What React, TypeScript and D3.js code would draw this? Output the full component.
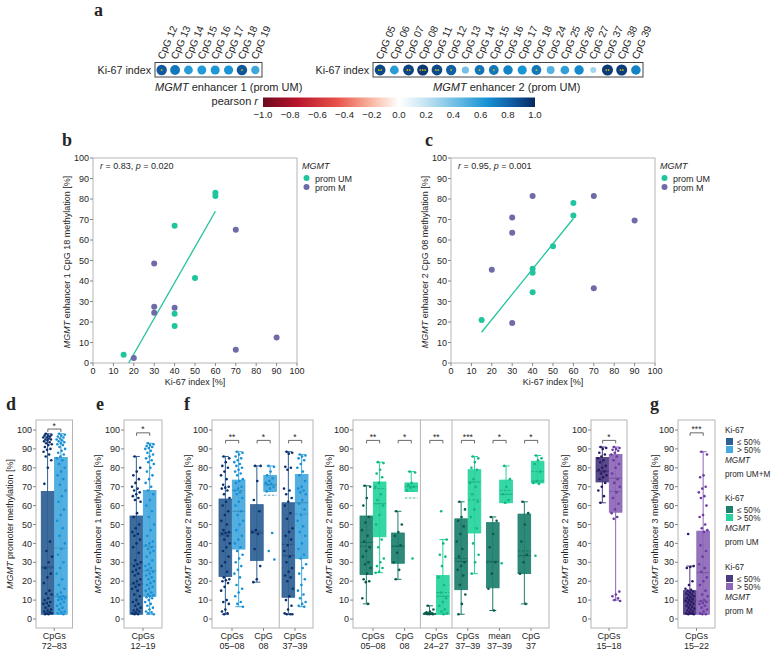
import React from "react";
import * as d3 from "d3";

const SANS = "Arial, 'Liberation Sans', Helvetica, sans-serif";
const SERIF = "'Liberation Serif', 'Times New Roman', serif";
const INK = "#262626";
const FRAME = "#b5b5b5";

// ---- a: pearson r of Ki-67 index vs CpG methylation ----
const enh1CpGs = ["12", "13", "14", "15", "16", "17", "18", "19"];
const enh1R = [0.84, 0.74, 0.6, 0.61, 0.63, 0.64, 0.85, 0.54];
const enh1Sig = [1, 0, 0, 0, 0, 0, 1, 0];
const enh2CpGs = ["05", "06", "07", "08", "11", "12", "13", "14", "15", "16", "17", "18", "24", "25", "26", "27", "37", "38", "39"];
const enh2R = [0.9, 0.6, 0.91, 0.95, 0.89, 0.82, 0.4, 0.75, 0.74, 0.7, 0.64, 0.74, 0.48, 0.58, 0.68, 0.28, 0.94, 0.93, 0.7];
const enh2Sig = [2, 0, 2, 3, 2, 1, 0, 1, 1, 0, 0, 1, 0, 0, 0, 0, 2, 2, 0];

// ---- b / c: scatter (Ki-67 index vs methylation) ----
const bUmX = [15, 40, 40, 40, 50, 60, 60];
const bUmY = [4, 67, 24, 18, 41.5, 83, 81.5];
const bMX = [20, 30, 30, 30, 40, 70, 70, 90];
const bMY = [2.5, 48.5, 27.5, 24.5, 27, 65, 6.5, 12.5];
const bFitX = [17.5, 60];
const bFitY = [0, 74];
const cUmX = [15, 40, 40, 40, 50, 60, 60];
const cUmY = [21, 46, 44, 34.5, 57, 78, 72];
const cMX = [20, 30, 30, 30, 40, 70, 70, 90];
const cMY = [45.5, 71, 63.5, 19.5, 81.5, 81.5, 36.5, 69.5];
const cFitX = [15, 60];
const cFitY = [15, 70.5];

// ---- d..g: box plots, stats = [q1, median, q3, mean, whiskerLow, whiskerHigh] ----
const dGroups = [["CpGs", "72–83"]];
const dLo = [[2.5, 27.5, 67.5, 27, 2.5, 98]];
const dHi = [[2.5, 12, 85.5, 37.5, 2.5, 98]];
const dLoPts = [[98, 97.5, 97, 97, 96.5, 96, 96, 95.5, 95, 95, 94.5, 94, 93.5, 93, 92.5, 92, 91, 90, 89.5, 88.5, 87, 86, 84, 80, 71.5, 41, 36, 33, 30, 27, 24, 22, 19, 15, 13.5, 13, 11, 10, 9, 8.5, 8, 7, 6, 5, 4.5, 4, 3.5, 3, 3, 2.5, 2.5]];
const dHiPts = [[98, 97.5, 97, 96.5, 96, 95.5, 95, 94.5, 94, 93.5, 93, 92.5, 92, 91, 90, 89, 88, 87, 86, 85, 84, 82, 80, 78, 76, 74, 71, 68, 65, 62, 58, 55, 52, 48, 44, 40, 37, 34, 30, 27, 24, 21, 18, 16, 14, 13, 12, 11.5, 11, 10.5, 10, 9, 8, 7, 6, 5, 4, 3.5, 3, 2.5]];
const dStars = ["*"];

const eGroups = [["CpGs", "12–19"]];
const eLo = [[2.5, 18.5, 54.5, 29, 2.5, 86]];
const eHi = [[12, 25.5, 68, 38.5, 2.5, 93]];
const eLoPts = [[86, 80, 78, 76, 74, 72, 70, 69, 68, 67, 66, 65, 64, 63, 62, 56, 54, 50, 48, 46, 45, 44, 42, 40, 38, 35, 31, 30, 29, 28, 27, 26, 25, 24, 23, 21, 20, 19, 18, 17, 16, 15, 13, 12, 10, 9, 8, 7, 6, 5, 4.5, 4, 3.5, 3, 2.5, 2.5]];
const eHiPts = [[93, 92.5, 92, 91.5, 91, 90.5, 90, 89, 88, 87, 86, 85, 84, 83, 82, 80, 78, 76, 74, 72, 70, 68, 66, 63, 60, 57, 54, 50, 47, 44, 41, 40, 39, 38, 37, 36, 35, 33, 31, 29, 28, 27, 26, 25, 24, 23, 22, 21, 20, 19, 18, 17, 16, 15, 14, 13, 12.5, 12, 11.5, 11, 10, 9, 8, 7, 6, 5, 4, 3.5, 3, 2.5]];
const eStars = ["*"];

const fLGroups = [["CpGs", "05–08"], ["CpG", "08"], ["CpGs", "37–39"]];
const fLLo = [[22.5, 45.5, 63.5, 44, 2.5, 86], [31, 45.5, 60.5, 46.5, 19.5, 81], [11.5, 33.5, 61.5, 39.5, 2.5, 88.5]];
const fLHi = [[37, 57, 73.5, 68, 6.5, 88.5], [67.5, 71, 76, 65.5, 67.5, 81], [32, 61.5, 76.5, 55.5, 6.5, 87]];
const fLLoPts = [
  [86, 85, 83, 81, 80, 78, 76, 74, 71, 70, 69.5, 69, 68, 66, 64, 62, 60, 57, 55, 52, 50, 47, 46, 45.5, 45, 44, 42, 40, 38, 36, 33, 30, 28, 25, 22, 21, 20.5, 20, 19, 17, 15, 10, 9, 8, 5, 4, 3, 2.5],
  [81, 81, 73, 63, 57, 47, 46, 45, 37, 28, 21, 19.5],
  [88.5, 88, 87.5, 80.5, 80, 79, 69, 68, 66, 64, 62, 60, 56, 53, 48, 46, 44, 42, 39, 36, 33, 30, 27, 25, 23, 22, 20, 16, 12, 10, 7, 5, 3, 2.5, 2.5, 2.5],
];
const fLHiPts = [
  [88.5, 88, 87, 86, 85, 84, 83, 82, 81, 80, 79, 78, 77, 76, 74, 73, 72, 70, 69, 68, 67, 66, 64, 62, 60, 57, 55, 52, 50, 47, 44, 42, 40, 38, 36, 34, 32, 30, 28, 26, 24, 22, 18, 16, 14, 12, 9, 8, 6.5],
  [81, 80.5, 78, 76, 74.5, 73, 72, 71.5, 71, 70, 69, 67.5, 45.5, 36, 31.5],
  [87, 86.5, 86, 85, 84, 82, 80, 78, 76, 73, 70, 69, 68, 67, 66, 63, 61, 58, 55, 52, 49, 46, 44, 40, 37, 34, 32, 29, 27, 24, 21, 18, 15, 13, 11, 9, 8, 7, 6.5],
];
const fLStars = ["**", "*", "*"];

const fMGroups = [["CpGs", "05–08"], ["CpG", "08"], ["CpGs", "24–27"], ["CpGs", "37–39"], ["mean", "37–39"], ["CpG", "37"]];
const fMLo = [[23.5, 40.5, 54.5, 38.5, 8, 70.5], [29.5, 38.5, 45.5, 38.5, 21, 57], [2.5, 2.6, 3, 3, 2.5, 7], [15.5, 30.5, 53, 32, 2.5, 62], [16.5, 30.5, 51, 30, 4.5, 54], [24, 33.5, 55.5, 36, 8, 62]];
const fMHi = [[43.5, 61, 72.5, 69, 24.5, 83], [67.5, 70, 72, 64, 67.5, 78], [2.5, 12, 23, 14, 2.5, 42], [45.5, 72.5, 79, 63, 24, 86], [61.5, 66, 73.5, 68, 61.5, 81], [72, 73, 83.5, 78, 72, 86.5]];
const fMLoPts = [
  [70.5, 70, 64, 60, 54, 51, 47, 44, 41, 38, 36, 33, 30, 29, 27, 24, 21, 20, 19.5, 11, 8],
  [57, 50, 46, 44, 39, 35, 30, 26, 21],
  [7, 5, 4, 3.5, 3, 3, 3, 2.8, 2.6, 2.5, 2.5],
  [62, 58, 54, 52, 49, 45, 41, 37, 33, 30, 28, 26, 23, 18, 13, 8, 2.5],
  [54, 52, 45, 38, 30, 24, 16, 4.5],
  [62, 56, 50, 41, 34, 30, 24, 8],
];
const fMHiPts = [
  [83, 82.5, 79, 77, 75, 72, 70, 66, 63, 60, 55, 50, 42, 38, 32, 30, 28, 27, 25, 24.5],
  [78, 77.5, 72, 71, 70, 69.5, 68, 32],
  [57, 42, 40, 34, 33, 28, 22, 18, 14, 11, 9, 7, 5, 4, 3, 2.5],
  [86, 85, 83, 80, 79, 74, 72, 70, 66, 62, 58, 54, 48, 40, 34, 30, 24],
  [81, 74, 70, 66, 63, 61.5, 29.5],
  [86.5, 85, 84, 82, 78, 73, 72, 71.5, 33.5],
];
const fMStars = ["**", "*", "**", "***", "*", "*"];

const fRGroups = [["CpGs", "15–18"]];
const fRLo = [[72.5, 78, 85.5, 78.5, 61.5, 91]];
const fRHi = [[56.5, 74.5, 87, 67.5, 10, 91]];
const fRLoPts = [[91, 90.5, 90, 88, 87, 86, 85, 84, 83, 81, 80, 79, 78, 77, 76, 75, 74, 72, 70, 68, 65, 61.5]];
const fRHiPts = [[91, 90.5, 90, 89.5, 89, 88, 87, 86, 84, 82, 80, 77, 74, 72, 70, 67, 64, 61, 58, 56, 54, 53, 14.5, 13, 12, 11, 10, 9.5]];
const fRStars = ["*"];

const gGroups = [["CpGs", "15–22"]];
const gLo = [[2.5, 9.5, 15, 10.5, 2.5, 28]];
const gHi = [[2.5, 24.5, 46.5, 9.5, 2.5, 88.5]];
const gLoPts = [[45, 28, 27.5, 27, 20, 18, 16, 15.5, 15, 14.5, 14, 13.5, 13, 12.5, 12, 11.5, 11, 10.5, 10, 9.5, 9, 8.5, 8, 7.5, 7, 6.5, 6, 5.5, 5, 4.5, 4, 3.5, 3, 3, 2.5, 2.5]];
const gHiPts = [[88.5, 87, 76, 75, 70, 69, 67, 65, 64, 60, 55, 54, 50, 48, 47, 46, 39, 36, 33, 29, 27, 25, 22, 20, 18, 15, 13, 12, 10, 9.5, 9, 8.5, 8, 7, 6, 5, 4, 3, 2.5, 2.5]];
const gStars = ["***"];

const bluePal = { lo: "#2d5f94", hi: "#45a8de", loPt: "#0c2f6c", hiPt: "#178fd4" };
const greenPal = { lo: "#1d7f6d", hi: "#25d49d", loPt: "#0b5a4c", hiPt: "#13b585" };
const purplePal = { lo: "#4b3b7f", hi: "#8c67b7", loPt: "#2b1866", hiPt: "#6a3ba3" };
const UM = "#20c49d";
const PM = "#6f6aa8";

const rColor = d3
  .scaleLinear<string>()
  .domain([-1, -0.75, -0.45, -0.2, 0, 0.2, 0.45, 0.65, 0.82, 1])
  .range(["#6d0a1d", "#b8142c", "#e8534a", "#f9b8a3", "#ffffff", "#c3e3f2", "#62b8e2", "#1592d3", "#115fa6", "#08285f"]);
const rSize = d3.scaleSqrt().domain([0, 1]).range([0, 5.7]);

const Mgmt = () => <tspan fontStyle="italic">MGMT</tspan>;

function CorrRow({ cpgs, rs, sig, x0, x1, title, titleX }: any) {
  const band = d3.scaleBand<string>().domain(cpgs).range([x0, x1]);
  const cx = (c: string) => (band(c) as number) + band.bandwidth() / 2;
  return (
    <g>
      <text x={x0 - 4} y={70} dy="0.35em" textAnchor="end" fontSize={10.7} fill={INK}>Ki-67 index</text>
      <rect x={x0} y={62.5} width={x1 - x0} height={14.5} fill="none" stroke="#444" strokeWidth={1} />
      {cpgs.map((c: string, i: number) => (
        <g key={c}>
          <circle cx={cx(c)} cy={70} r={rSize(Math.abs(rs[i]))} fill={rColor(rs[i])} />
          {d3.range(sig[i]).map((k) => (
            <circle key={k} cx={cx(c) + (k - (sig[i] - 1) / 2) * 2.4} cy={70} r={0.85} fill="#f3d000" />
          ))}
          <text transform={`translate(${cx(c) + 2},60) rotate(-67)`} fontSize={10.2} fill={INK}>{`CpG ${c}`}</text>
        </g>
      ))}
      <text x={titleX} y={91} fontSize={11} fill={INK}><Mgmt />{title}</text>
    </g>
  );
}

function ColorBar() {
  const x = d3.scaleLinear().domain([-1, 1]).range([263, 535]);
  const stops = d3.range(-1, 1.0001, 0.05);
  return (
    <g>
      <defs>
        <linearGradient id="rgrad" x1="0" x2="1" y1="0" y2="0">
          {stops.map((s) => (
            <stop key={s} offset={(s + 1) / 2} stopColor={rColor(s)} />
          ))}
        </linearGradient>
      </defs>
      <text x={258} y={105} textAnchor="end" fontSize={11} fill={INK}>pearson <tspan fontStyle="italic">r</tspan></text>
      <rect x={x(-1)} y={97.5} width={x(1) - x(-1)} height={9.5} fill="url(#rgrad)" />
      {x.ticks(10).map((t) => (
        <text key={t} x={x(t)} y={117.5} textAnchor="middle" fontSize={9.6} fill={INK}>{d3.format(".1f")(t)}</text>
      ))}
    </g>
  );
}

function Scatter({ left, letter, letterX, umX, umY, mX, mY, fitX, fitY, r, p, yText, yLabelX }: any) {
  const x = d3.scaleLinear().domain([0, 100]).range([left, left + 204]);
  const y = d3.scaleLinear().domain([0, 100]).range([363, 158]);
  const ticks = x.ticks(10);
  const line = d3.line<number>().x((d) => x(d)).y((_, i) => y(fitY[i]));
  return (
    <g fontSize={9} fill={INK}>
      <text x={letterX} y={146} fontFamily={SERIF} fontWeight="bold" fontSize={18}>{letter}</text>
      <rect x={x(0)} y={y(100)} width={x(100) - x(0)} height={y(0) - y(100)} fill="none" stroke={FRAME} />
      {ticks.map((t) => (
        <g key={t}>
          <line x1={x(0) - 3} x2={x(0)} y1={y(t)} y2={y(t)} stroke="#888" />
          <text x={x(0) - 4} y={y(t)} dy="0.35em" textAnchor="end">{t}</text>
          <line x1={x(t)} x2={x(t)} y1={y(0)} y2={y(0) + 3} stroke="#888" />
          <text x={x(t)} y={y(0) + 11} textAnchor="middle">{t}</text>
        </g>
      ))}
      <text x={x(50)} y={385} textAnchor="middle">Ki-67 index [%]</text>
      <text transform={`translate(${yLabelX},262) rotate(-90)`} textAnchor="middle"><Mgmt />{yText}</text>
      <text x={x(0) + 7} y={169}>
        <tspan fontStyle="italic">r</tspan>{` = ${r}, `}<tspan fontStyle="italic">p</tspan>{` = ${p}`}
      </text>
      <path d={line(fitX) as string} fill="none" stroke={UM} strokeWidth={1.3} />
      {umX.map((v: number, i: number) => (
        <circle key={"u" + i} cx={x(v)} cy={y(umY[i])} r={3} fill={UM} />
      ))}
      {mX.map((v: number, i: number) => (
        <circle key={"m" + i} cx={x(v)} cy={y(mY[i])} r={3} fill={PM} />
      ))}
      <text x={x(100) + 5} y={169} fontStyle="italic">MGMT</text>
      <circle cx={x(100) + 9.5} cy={178} r={3} fill={UM} />
      <text x={x(100) + 18} y={181.5}>prom UM</text>
      <circle cx={x(100) + 9.5} cy={187} r={3} fill={PM} />
      <text x={x(100) + 18} y={190.5}>prom M</text>
    </g>
  );
}

// fixed horizontal spread of the dots inside a box (display only)
const jit = (i: number) => ((i * 0.6180339887 + 0.31) % 1) - 0.5;

function BoxPanel({ x0, x1, groups, lo, hi, loPts, hiPts, stars, bracket, breaks = [], pal, yText, yLabelX, letter, letterX }: any) {
  const y = d3.scaleLinear().domain([0, 100]).range([619, 430]);
  const n = groups.length;
  const pos = d3.scalePoint<number>().domain(d3.range(n)).range([x0 + 20, x1 - 18]);
  const cx = (i: number) => (n === 1 ? (x0 + x1) / 2 : (pos(i) as number));
  const top = 420;
  const bot = 628;
  const box = (c: number, s: number[], pts: number[], fill: string, pt: string, side: number, key: string) => {
    const bx = side < 0 ? c - 13 : c + 0.3;
    const w = 12.7;
    const mid = bx + w / 2;
    const dark = d3.color(fill)!.darker(0.7).formatHex();
    return (
      <g key={key}>
        <line x1={mid} x2={mid} y1={y(s[4])} y2={y(s[5])} stroke={fill} strokeWidth={1} />
        <line x1={mid - 3.5} x2={mid + 3.5} y1={y(s[4])} y2={y(s[4])} stroke={fill} />
        <line x1={mid - 3.5} x2={mid + 3.5} y1={y(s[5])} y2={y(s[5])} stroke={fill} />
        <rect x={bx} y={y(s[2])} width={w} height={Math.max(1, y(s[0]) - y(s[2]))} fill={fill} fillOpacity={0.92} stroke={fill} strokeWidth={0.8} />
        <line x1={bx} x2={bx + w} y1={y(s[1])} y2={y(s[1])} stroke={dark} strokeWidth={0.8} />
        <line x1={bx} x2={bx + w} y1={y(s[3])} y2={y(s[3])} stroke={dark} strokeWidth={0.8} strokeDasharray="2.5,1.5" />
        {pts.map((v, i) => (
          <circle key={i} cx={mid + jit(i) * 9} cy={y(v)} r={1.3} fill={pt} />
        ))}
      </g>
    );
  };
  return (
    <g fontSize={9} fill={INK}>
      <text x={letterX} y={410} fontFamily={SERIF} fontWeight="bold" fontSize={18}>{letter}</text>
      <rect x={x0} y={top} width={x1 - x0} height={bot - top} fill="none" stroke={FRAME} />
      {breaks.map((b: number) => (
        <line key={b} x1={(cx(b) + cx(b + 1)) / 2} x2={(cx(b) + cx(b + 1)) / 2} y1={top} y2={bot} stroke={FRAME} />
      ))}
      {y.ticks(10).map((t) => (
        <g key={t}>
          <line x1={x0 - 3} x2={x0} y1={y(t)} y2={y(t)} stroke="#888" />
          <text x={x0 - 4} y={y(t)} dy="0.35em" textAnchor="end">{t}</text>
        </g>
      ))}
      <text transform={`translate(${yLabelX},524) rotate(-90)`} textAnchor="middle"><Mgmt />{yText}</text>
      {groups.map((g: string[], i: number) => {
        const c = cx(i);
        const by = y(bracket);
        return (
          <g key={i}>
            {box(c, lo[i], loPts[i], pal.lo, pal.loPt, -1, "lo")}
            {box(c, hi[i], hiPts[i], pal.hi, pal.hiPt, 1, "hi")}
            <path d={`M${c - 6.4},${by + 3}V${by}H${c + 6.7}V${by + 3}`} fill="none" stroke="#444" strokeWidth={0.8} />
            <text x={c} y={by - 0.5} textAnchor="middle" fontSize={8.5}>{stars[i]}</text>
            <line x1={c} x2={c} y1={bot} y2={bot + 3} stroke="#888" />
            <text x={c} y={639} textAnchor="middle">{g[0]}</text>
            <text x={c} y={649} textAnchor="middle">{g[1]}</text>
          </g>
        );
      })}
    </g>
  );
}

function KiLegend() {
  const blocks = [
    { pal: bluePal, who: "prom UM+M", y: 433 },
    { pal: greenPal, who: "prom UM", y: 501 },
    { pal: purplePal, who: "prom M", y: 570 },
  ];
  return (
    <g fontSize={8.2} fill={INK}>
      {blocks.map((b) => (
        <g key={b.who}>
          <text x={725} y={b.y}>Ki-67</text>
          <rect x={726} y={b.y + 5} width={7} height={7} fill={b.pal.lo} />
          <text x={737} y={b.y + 11.5}>≤ 50%</text>
          <rect x={726} y={b.y + 13} width={7} height={7} fill={b.pal.hi} />
          <text x={737} y={b.y + 19.5}>&gt; 50%</text>
          <text x={725} y={b.y + 30} fontStyle="italic">MGMT</text>
          <text x={725} y={b.y + 44}>{b.who}</text>
        </g>
      ))}
    </g>
  );
}

export default function App() {
  return (
    <svg width={779} height={654} fontFamily={SANS} style={{ position: "absolute", left: 0, top: 0, background: "#fff" }}>
      <text x={94} y={16} fontFamily={SERIF} fontWeight="bold" fontSize={18} fill={INK}>a</text>
      <CorrRow cpgs={enh1CpGs} rs={enh1R} sig={enh1Sig} x0={155} x1={262} title=" enhancer 1 (prom UM)" titleX={155} />
      <CorrRow cpgs={enh2CpGs} rs={enh2R} sig={enh2Sig} x0={373} x1={643} title="  enhancer 2 (prom UM)" titleX={433} />
      <ColorBar />
      <Scatter left={93} letter="b" letterX={62} umX={bUmX} umY={bUmY} mX={bMX} mY={bMY} fitX={bFitX} fitY={bFitY} r="0.83" p="0.020" yText=" enhancer 1 CpG 18 methylation [%]" yLabelX={70} />
      <Scatter left={451} letter="c" letterX={425} umX={cUmX} umY={cUmY} mX={cMX} mY={cMY} fitX={cFitX} fitY={cFitY} r="0.95" p="0.001" yText=" enhancer 2 CpG 08 methylation [%]" yLabelX={428} />
      <BoxPanel x0={36} x1={72.5} groups={dGroups} lo={dLo} hi={dHi} loPts={dLoPts} hiPts={dHiPts} stars={dStars} bracket={100.5} pal={bluePal} yText=" promoter methylation [%]" yLabelX={13} letter="d" letterX={6} />
      <BoxPanel x0={124} x1={162} groups={eGroups} lo={eLo} hi={eHi} loPts={eLoPts} hiPts={eHiPts} stars={eStars} bracket={98.5} pal={bluePal} yText=" enhancer 1 methylation [%]" yLabelX={101} letter="e" letterX={96} />
      <BoxPanel x0={212} x1={313} groups={fLGroups} lo={fLLo} hi={fLHi} loPts={fLLoPts} hiPts={fLHiPts} stars={fLStars} bracket={94.5} breaks={[1]} pal={bluePal} yText=" enhancer 2 methylation [%]" yLabelX={191} letter="f" letterX={184} />
      <BoxPanel x0={353} x1={549} groups={fMGroups} lo={fMLo} hi={fMHi} loPts={fMLoPts} hiPts={fMHiPts} stars={fMStars} bracket={94.5} breaks={[1, 2]} pal={greenPal} yText=" enhancer 2 methylation [%]" yLabelX={332} letter="" letterX={0} />
      <BoxPanel x0={591} x1={627} groups={fRGroups} lo={fRLo} hi={fRHi} loPts={fRLoPts} hiPts={fRHiPts} stars={fRStars} bracket={94.5} pal={purplePal} yText=" enhancer 2 methylation [%]" yLabelX={568} letter="" letterX={0} />
      <BoxPanel x0={678} x1={715} groups={gGroups} lo={gLo} hi={gHi} loPts={gLoPts} hiPts={gHiPts} stars={gStars} bracket={98.5} pal={purplePal} yText=" enhancer 3 methylation [%]" yLabelX={658} letter="g" letterX={650} />
      <KiLegend />
    </svg>
  );
}
